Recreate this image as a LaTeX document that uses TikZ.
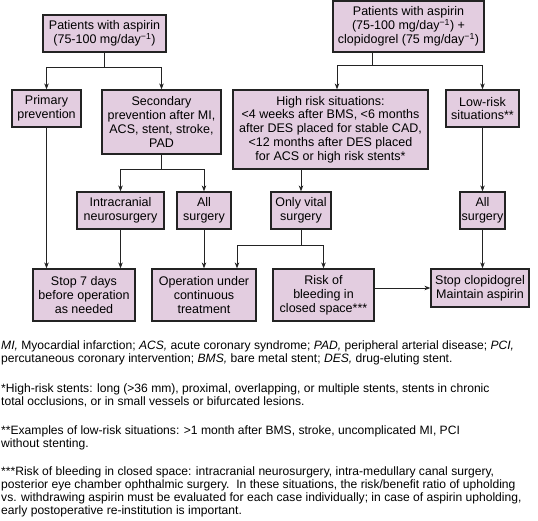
\documentclass[tikz,border=0pt]{standalone}
\usepackage{fontspec}
\setmainfont{Liberation Sans}
\usetikzlibrary{arrows.meta,calc}
\definecolor{boxfill}{RGB}{227,205,224}
\definecolor{ink}{RGB}{35,35,35}
\begin{document}
\begin{tikzpicture}[x=1pt,y=-1pt,
  box/.style={draw=ink, line width=1.2pt, fill=boxfill, inner sep=0pt, align=center,
    font=\fontsize{12.5}{13.8}\selectfont},
  line/.style={draw=ink, line width=0.9pt},
  arr/.style={line, -{Stealth[length=6pt,width=4.5pt]}},
  note/.style={anchor=base west, inner sep=0pt, align=left,
    font=\fontsize{12.1}{12.75}\selectfont}]
\path[use as bounding box] (0,0) rectangle (538,521);

% boxes
\node[box, minimum width=123pt, minimum height=37pt] (A) at (104.5,33.5)
  {Patients with aspirin\\(75-100 mg/day\textsuperscript{−1})};
\node[box, minimum width=151pt, minimum height=51pt] (B) at (408.5,26.5)
  {Patients with aspirin\\(75-100 mg/day\textsuperscript{−1}) +\\clopidogrel (75 mg/day\textsuperscript{−1})};
\node[box, minimum width=69pt, minimum height=37pt] (prim) at (46.5,108.5)
  {Primary\\prevention};
\node[box, minimum width=119pt, minimum height=64pt] (sec) at (161.5,122)
  {Secondary\\prevention after MI,\\ACS, stent, stroke,\\PAD};
\node[box, minimum width=195pt, minimum height=79pt] (high) at (330.5,129.5)
  {High risk situations:\\<4 weeks after BMS, <6 months\\after DES placed for stable CAD,\\<12 months after DES placed\\for ACS or high risk stents*};
\node[box, minimum width=73pt, minimum height=37pt] (low) at (482.5,108.5)
  {Low-risk\\situations**};
\node[box, minimum width=87pt, minimum height=37pt] (intra) at (120.5,210.5)
  {Intracranial\\neurosurgery};
\node[box, minimum width=54pt, minimum height=37pt] (allL) at (204,210.5)
  {All\\surgery};
\node[box, minimum width=60pt, minimum height=37pt] (vital) at (301,210.5)
  {Only vital\\surgery};
\node[box, minimum width=45pt, minimum height=37pt] (allR) at (482.5,210.5)
  {All\\surgery};
\node[box, minimum width=102pt, minimum height=52pt] (stop7) at (84,295)
  {Stop 7 days\\before operation\\as needed};
\node[box, minimum width=104pt, minimum height=52pt] (oper) at (204,295)
  {Operation under\\continuous\\treatment};
\node[box, minimum width=101pt, minimum height=52pt] (risk) at (323.5,295)
  {Risk of\\bleeding in\\closed space***};
\node[box, minimum width=98pt, minimum height=38pt] (clop) at (480,288)
  {Stop clopidogrel\\Maintain aspirin};

% connectors
\coordinate (aj) at (104.5,67);
\draw[line] (A.south) -- (aj);
\draw[arr] (aj) -| (prim.north);
\draw[arr] (aj) -| (sec.north);

\coordinate (bj) at (372,65);
\draw[line] (bj |- B.south) -- (bj);
\draw[arr] (bj) -| ($(high.north)+(6.5,0)$);
\draw[arr] (bj) -| (low.north);

\coordinate (sj) at (161.5,169);
\draw[line] (sec.south) -- (sj);
\draw[arr] (sj) -| (intra.north);
\draw[arr] (sj) -| (allL.north);

\draw[arr] (vital.north |- high.south) -- (vital.north);
\draw[arr] (low.south) -- (allR.north);

\coordinate (vj) at (301,245);
\draw[line] (vital.south) -- (vj);
\draw[arr] (vj) -| ($(oper.north)+(33,0)$);
\draw[arr] (vj) -| (risk.north);

\draw[arr] (prim.south) -- (prim.south |- stop7.north);
\draw[arr] (intra.south) -- (intra.south |- stop7.north);
\draw[arr] (allL.south) -- (oper.north);
\draw[arr] (allR.south) -- (allR.south |- clop.north);
\draw[arr] (risk.east |- clop.west) -- (clop.west);

% notes (anchor = baseline of the last line)
\node[note] (n1) at (1,362)
  {\textit{MI,} Myocardial infarction; \textit{ACS,} acute coronary syndrome; \textit{PAD,} peripheral arterial disease; \textit{PCI,}\\
   percutaneous coronary intervention; \textit{BMS,} bare metal stent; \textit{DES,} drug-eluting stent.};
\node[note] (n2) at (1,405)
  {*High-risk stents: long (>36 mm), proximal, overlapping, or multiple stents, stents in chronic\\
   total occlusions, or in small vessels or bifurcated lesions.};
\node[note] (n3) at (1,447.5)
  {**Examples of low-risk situations: >1 month after BMS, stroke, uncomplicated MI, PCI\\
   without stenting.};
\node[note] (n4) at (1,514)
  {***Risk of bleeding in closed space: intracranial neurosurgery, intra-medullary canal surgery,\\
   posterior eye chamber ophthalmic surgery.\ \ In these situations, the risk/benefit ratio of upholding\\
   vs. withdrawing aspirin must be evaluated for each case individually; in case of aspirin upholding,\\
   early postoperative re-institution is important.};
\end{tikzpicture}
\end{document}
